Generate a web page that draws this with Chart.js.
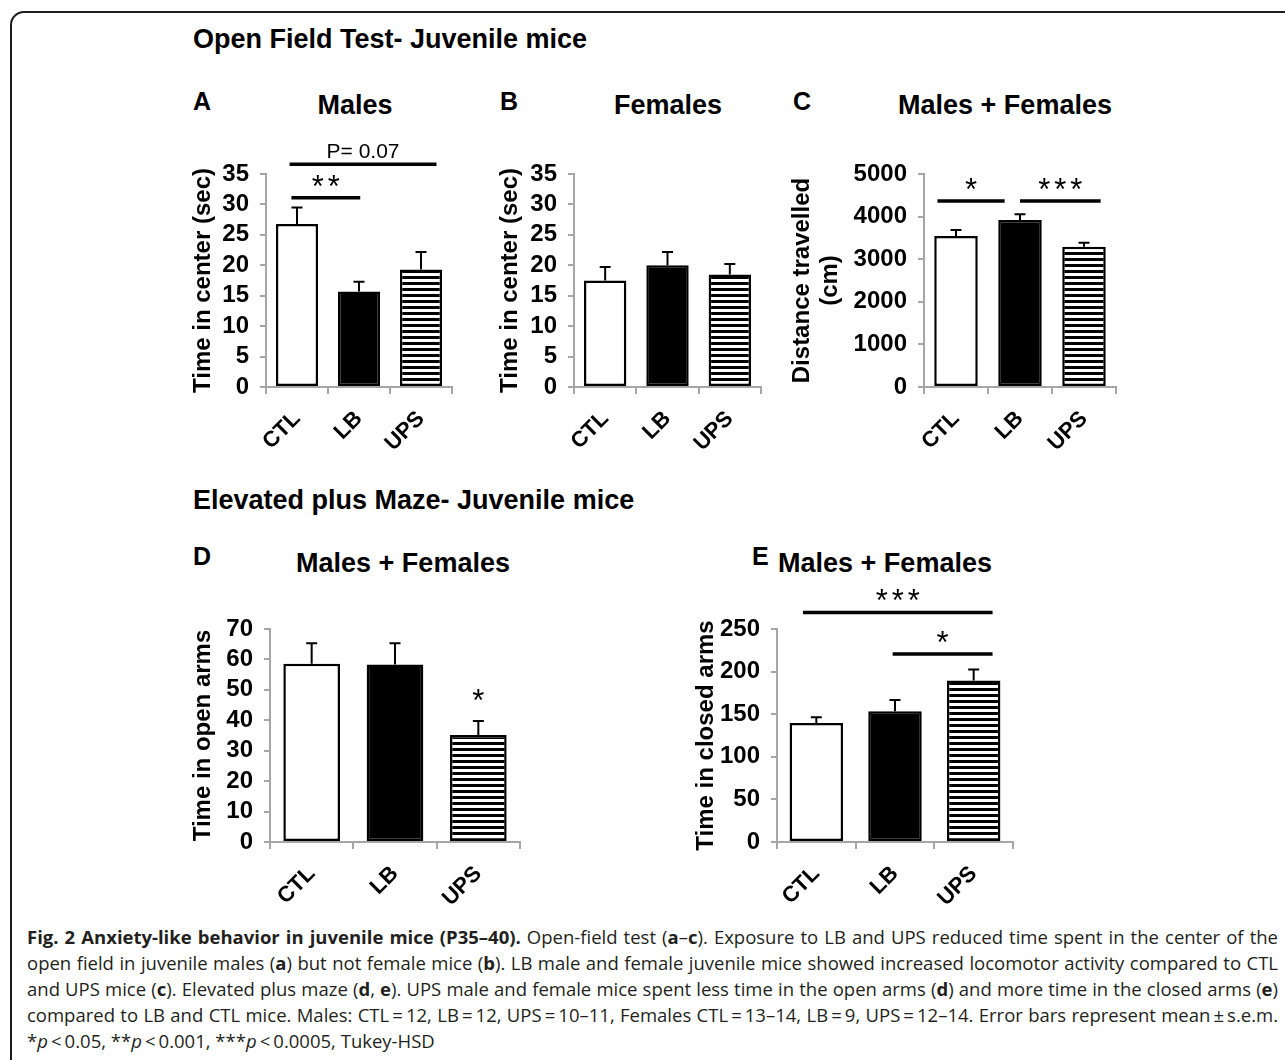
<!DOCTYPE html>
<html>
<head>
<meta charset="utf-8">
<script src="https://cdn.jsdelivr.net/npm/chart.js@4.4.1/dist/chart.umd.min.js"></script>
<style>
  body { margin: 0; background: #fff; width: 1285px; height: 1060px; overflow: hidden; position: relative;
         font-family: "Liberation Sans", Arial, Helvetica, sans-serif; }
  .frame { position: absolute; left: 10px; top: 11px; width: 1320px; height: 1100px;
           border: 2px solid #1c1c1c; border-radius: 14px; }
  .txt { position: absolute; font-weight: bold; color: #000; white-space: nowrap; line-height: 1; }
  .head { font-size: 27px; }
  .letter { font-size: 25px; }
  .ptitle { font-size: 27px; transform: translateX(-50%); }
  canvas { position: absolute; }
  .caption { position: absolute; left: 27px; top: 924px; width: 1251px; font-family: "Open Sans", sans-serif;
             font-size: 18.5px; line-height: 26px; text-align: justify; color: #231f20; }
</style>
</head>
<body>
<div class="frame"></div>

<div class="txt head" style="left:193px;top:26px">Open Field Test- Juvenile mice</div>
<div class="txt letter" style="left:193px;top:89px">A</div>
<div class="txt ptitle" style="left:355px;top:92px">Males</div>
<div class="txt letter" style="left:500px;top:89px">B</div>
<div class="txt ptitle" style="left:668px;top:92px">Females</div>
<div class="txt letter" style="left:793px;top:89px">C</div>
<div class="txt ptitle" style="left:1005px;top:92px">Males + Females</div>

<div class="txt head" style="left:193px;top:487px">Elevated plus Maze- Juvenile mice</div>
<div class="txt letter" style="left:193px;top:544px">D</div>
<div class="txt ptitle" style="left:403px;top:550px">Males + Females</div>
<div class="txt letter" style="left:752px;top:544px">E</div>
<div class="txt ptitle" style="left:885px;top:550px">Males + Females</div>

<canvas id="chartA" width="300" height="330" style="left:180px;top:120px"></canvas>
<canvas id="chartB" width="295" height="330" style="left:480px;top:120px"></canvas>
<canvas id="chartC" width="360" height="330" style="left:775px;top:120px"></canvas>
<canvas id="chartD" width="360" height="330" style="left:180px;top:580px"></canvas>
<canvas id="chartE" width="360" height="330" style="left:680px;top:580px"></canvas>

<div class="caption"><b>Fig. 2 Anxiety-like behavior in juvenile mice (P35–40).</b> Open-field test (<b>a</b>–<b>c</b>). Exposure to LB and UPS reduced time spent in the center of the open field in juvenile males (<b>a</b>) but not female mice (<b>b</b>). LB male and female juvenile mice showed increased locomotor activity compared to CTL and UPS mice (<b>c</b>). Elevated plus maze (<b>d</b>, <b>e</b>). UPS male and female mice spent less time in the open arms (<b>d</b>) and more time in the closed arms (<b>e</b>) compared to LB and CTL mice. Males: CTL&thinsp;=&thinsp;12, LB&thinsp;=&thinsp;12, UPS&thinsp;=&thinsp;10–11, Females CTL&thinsp;=&thinsp;13–14, LB&thinsp;=&thinsp;9, UPS&thinsp;=&thinsp;12–14. Error bars represent mean&thinsp;±&thinsp;s.e.m. *<i>p</i>&thinsp;&lt;&thinsp;0.05, **<i>p</i>&thinsp;&lt;&thinsp;0.001, ***<i>p</i>&thinsp;&lt;&thinsp;0.0005, Tukey-HSD</div>

<script>
var groups = ["CTL", "LB", "UPS"];

// means and s.e.m.
var malesCenter = [26.8, 15.7, 19.3];
var malesCenterSem = [2.7, 1.6, 2.9];
var femalesCenter = [17.5, 20.0, 18.5];
var femalesCenterSem = [2.2, 2.2, 1.7];
var distance = [3545, 3920, 3293];
var distanceSem = [140, 134, 94];
var openArms = [58.6, 58.3, 35.2];
var openArmsSem = [6.7, 7.0, 4.6];
var closedArms = [139.7, 153.5, 189.5];
var closedArmsSem = [6.7, 13.3, 13.0];

// y axis ranges
var centerAxis = { max: 35, step: 5 };
var distanceAxis = { max: 5000, step: 1000 };
var openAxis = { max: 70, step: 10 };
var closedAxis = { max: 250, step: 50 };

// significance marks: from/to in group units, level in data units
var sigA = [
  { from: -0.09, to: 1.02, level: 31.1, text: "**" },
  { from: -0.12, to: 2.25, level: 36.6, text: "P= 0.07" }
];
var sigC = [
  { from: -0.29, to: 0.76, level: 4366, text: "*" },
  { from: 1.0, to: 2.26, level: 4366, text: "***" }
];
var sigD = [
  { from: 2, to: 2, level: 42.9, text: "*", noLine: true }
];
var sigE = [
  { from: -0.17, to: 2.24, level: 269.5, text: "***" },
  { from: 0.97, to: 2.24, level: 220.6, text: "*" }
];

var FONT = "'Liberation Sans', Arial, Helvetica, sans-serif";
var axisGrey = "#a6a6a6";

function stripes() {
  var c = document.createElement("canvas");
  c.width = 8; c.height = 6;
  var x = c.getContext("2d");
  x.fillStyle = "#fff"; x.fillRect(0, 0, 8, 6);
  x.fillStyle = "#000"; x.fillRect(0, 0, 8, 3);
  return x.createPattern(c, "repeat");
}
var stripeFill = stripes();

var errorBars = {
  id: "errorBars",
  afterDatasetsDraw: function (chart) {
    var ctx = chart.ctx, ys = chart.scales.y;
    chart.data.datasets.forEach(function (ds, di) {
      chart.getDatasetMeta(di).data.forEach(function (bar, i) {
        var top = ys.getPixelForValue(ds.data[i] + ds.sem[i]);
        ctx.save();
        ctx.strokeStyle = "#000";
        ctx.lineWidth = 2;
        ctx.beginPath();
        ctx.moveTo(bar.x, bar.y);
        ctx.lineTo(bar.x, top);
        ctx.moveTo(bar.x - 5.5, top);
        ctx.lineTo(bar.x + 5.5, top);
        ctx.stroke();
        ctx.restore();
      });
    });
  }
};

var sigMarks = {
  id: "sig",
  afterDraw: function (chart, args, opts) {
    var marks = opts.marks || [];
    var ctx = chart.ctx, xs = chart.scales.x, ys = chart.scales.y;
    marks.forEach(function (m) {
      var x1 = xs.getPixelForValue(m.from), x2 = xs.getPixelForValue(m.to);
      var y = ys.getPixelForValue(m.level);
      var star = m.text.charAt(0) === "*";
      var base = y;
      ctx.save();
      if (!m.noLine) {
        ctx.strokeStyle = "#000";
        ctx.lineWidth = 3.5;
        ctx.beginPath();
        ctx.moveTo(x1, y);
        ctx.lineTo(x2, y);
        ctx.stroke();
        base = y - (star ? 1 : 6);
      }
      ctx.font = (star ? "31px " : "21px ") + FONT;
      ctx.letterSpacing = star ? "4px" : "0px";
      ctx.fillStyle = "#000";
      ctx.textAlign = "left";
      ctx.textBaseline = "alphabetic";
      var w = ctx.measureText(m.text).width - (star ? 4 : 0);
      ctx.fillText(m.text, (x1 + x2) / 2 - w / 2, base);
      ctx.restore();
    });
  }
};

Chart.register(errorBars, sigMarks);

function makeChart(id, values, sem, axis, marks, box) {
  return new Chart(document.getElementById(id), {
    type: "bar",
    data: {
      labels: groups,
      datasets: [{
        data: values,
        sem: sem,
        backgroundColor: ["#ffffff", "#000000", stripeFill],
        borderColor: "#000",
        borderWidth: 2.5,
        borderSkipped: false,
        barPercentage: 0.68,
        categoryPercentage: 1
      }]
    },
    options: {
      responsive: false,
      animation: false,
      layout: { padding: box.pad },
      plugins: {
        legend: { display: false },
        tooltip: { enabled: false },
        sig: { marks: marks }
      },
      scales: {
        x: {
          grid: { offset: true, drawOnChartArea: false, color: axisGrey, lineWidth: 2, tickLength: 7 },
          border: { color: axisGrey, width: 2 },
          ticks: { color: "#000", font: { family: FONT, size: 22, weight: "bold" },
                   minRotation: 45, maxRotation: 45, autoSkip: false, padding: 12 },
          afterFit: function (s) { s.height = box.xHeight; }
        },
        y: {
          min: 0,
          max: axis.max,
          grid: { drawOnChartArea: false, color: axisGrey, lineWidth: 2, tickLength: 6 },
          border: { color: axisGrey, width: 2 },
          ticks: { stepSize: axis.step, autoSkip: false, color: "#000", padding: 11,
                   font: { family: FONT, size: 24, weight: "bold" },
                   callback: function (v) { return String(v); } },
          title: { display: true, text: box.title, color: "#000",
                   font: { family: FONT, size: 24, weight: "bold", lineHeight: box.lineHeight || 1.2 },
                   padding: { top: box.titlePad, bottom: 0 } },
          afterFit: function (s) { s.width = box.yWidth; }
        }
      }
    }
  });
}

makeChart("chartA", malesCenter, malesCenterSem, centerAxis, sigA,
  { pad: { left: 0, top: 54, right: 28, bottom: 0 }, yWidth: 86, xHeight: 63, titlePad: 8.6,
    title: "Time in center (sec)" });
makeChart("chartB", femalesCenter, femalesCenterSem, centerAxis, [],
  { pad: { left: 0, top: 54, right: 14, bottom: 0 }, yWidth: 94, xHeight: 63, titlePad: 15.6,
    title: "Time in center (sec)" });
makeChart("chartC", distance, distanceSem, distanceAxis, sigC,
  { pad: { left: 0, top: 54, right: 19, bottom: 0 }, yWidth: 149, xHeight: 63, titlePad: 13,
    title: ["Distance travelled", "(cm)"], lineHeight: 28 / 24 });
makeChart("chartD", openArms, openArmsSem, openAxis, sigD,
  { pad: { left: 0, top: 49, right: 20, bottom: 0 }, yWidth: 90, xHeight: 68, titlePad: 8.6,
    title: "Time in open arms" });
makeChart("chartE", closedArms, closedArmsSem, closedAxis, sigE,
  { pad: { left: 0, top: 49, right: 27, bottom: 0 }, yWidth: 97, xHeight: 68, titlePad: 11.6,
    title: "Time in closed arms" });
</script>
</body>
</html>
